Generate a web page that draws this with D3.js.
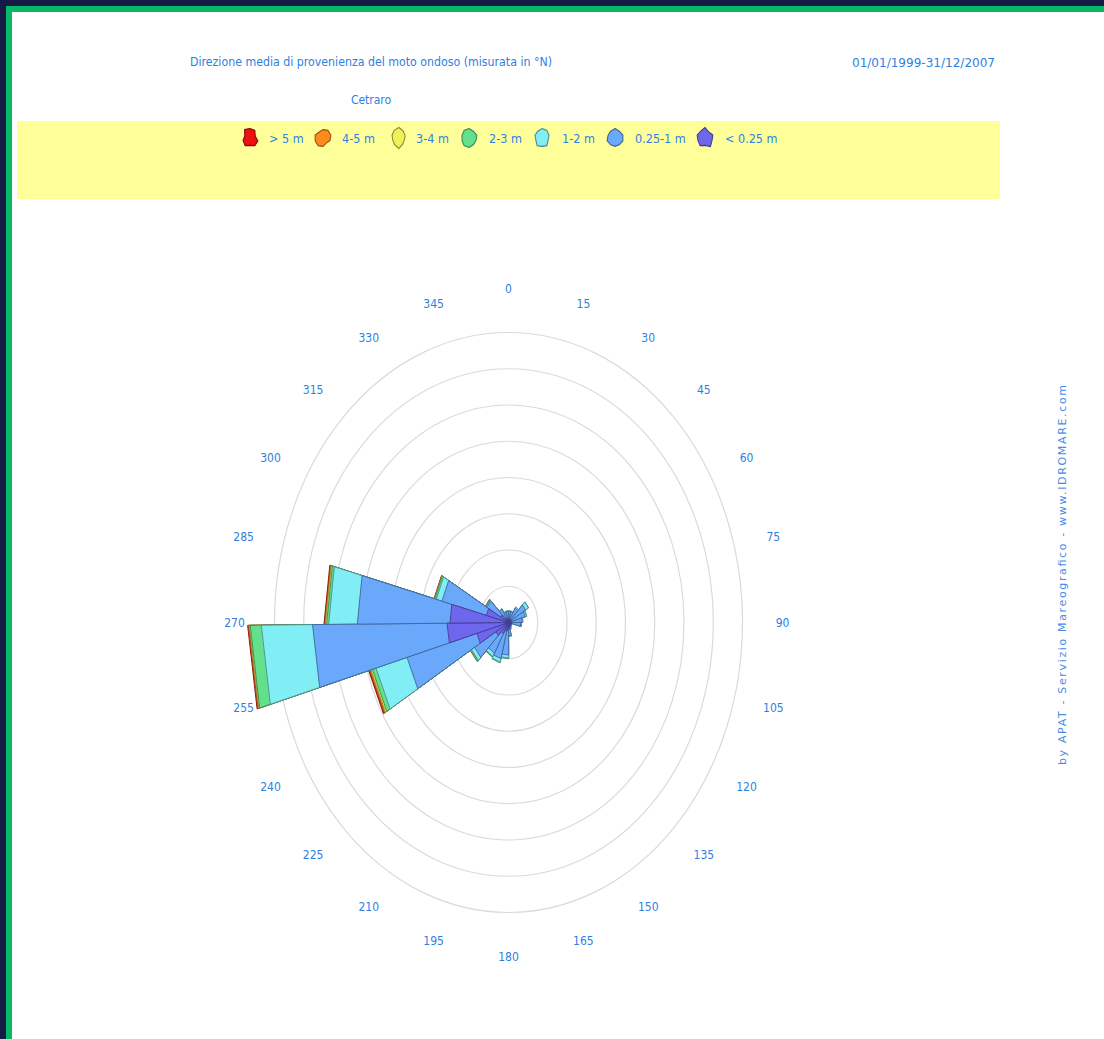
<!DOCTYPE html>
<html><head><meta charset="utf-8">
<script src="https://cdn.jsdelivr.net/npm/d3@7"></script>
<style>
html,body{margin:0;padding:0;background:#fff;overflow:hidden;}
svg{display:block;}
</style></head>
<body>
<svg id="chart" width="1104" height="1039"></svg>
<script>
// ---- data ----
const sectors = [0,15,30,45,60,75,90,105,120,135,150,165,180,195,210,225,240,255,270,285,300,315,330,345];
const bandLabels = ["< 0.25 m","0.25-1 m","1-2 m","2-3 m","3-4 m","4-5 m","> 5 m"];
const bandColors = ["#6f66ee","#6aa8fb","#80eef4","#62e08c","#f0f05a","#ff8c1a","#ee1111"];
// thickness of each band per sector (frequency units, one ring = 1)
const lt025  = [0.10,0.10,0.10,0.10,0.10,0.11,0.11,0.10,0.10,0.11,0.12,0.15,0.20,0.25,0.35,0.50,1.12,2.10,2.00,0.78,0.30,0.12,0.10,0.10];
const h025_1 = [0.21,0.21,0.36,0.58,0.49,0.36,0.31,0.02,0.02,0.04,0.08,0.22,0.70,0.78,0.63,0.85,2.48,4.60,3.17,1.57,0.55,0.31,0.20,0.21];
const h1_2   = [0.02,0.02,0.04,0.11,0.05,0.03,0.02,0.00,0.00,0.00,0.00,0.02,0.08,0.10,0.10,0.12,1.10,1.75,0.98,0.20,0.03,0.02,0.02,0.02];
const h2_3   = [0.00,0.00,0.00,0.01,0.01,0.00,0.01,0.00,0.00,0.00,0.00,0.00,0.02,0.02,0.02,0.03,0.13,0.38,0.07,0.05,0.01,0.00,0.00,0.00];
const h3_4   = [0.00,0.00,0.00,0.00,0.00,0.00,0.00,0.00,0.00,0.00,0.00,0.00,0.00,0.00,0.01,0.01,0.05,0.03,0.04,0.01,0.01,0.00,0.00,0.00];
const h4_5   = [0.00,0.00,0.00,0.00,0.00,0.00,0.00,0.00,0.00,0.00,0.00,0.00,0.00,0.00,0.00,0.01,0.04,0.03,0.02,0.01,0.00,0.00,0.00,0.00];
const hgt5   = [0.00,0.00,0.00,0.00,0.00,0.00,0.00,0.00,0.00,0.00,0.00,0.00,0.00,0.00,0.00,0.00,0.04,0.03,0.03,0.01,0.01,0.00,0.00,0.00];
const bands = [lt025,h025_1,h1_2,h2_3,h3_4,h4_5,hgt5];
const ringValues = [1,2,3,4,5,6,7,8];
const angleTicks = [0,15,30,45,60,75,90,105,120,135,150,165,180,195,210,225,240,255,270,285,300,315,330,345];
const sectorSpan = 15;
const sectorOffset = -0.5;

const titleText = "Direzione media di provenienza del moto ondoso (misurata in °N)";
const dateText = "01/01/1999-31/12/2007";
const stationText = "Cetraro";
const creditText = "by APAT - Servizio Mareografico - www.IDROMARE.com";

// ---- drawing ----
const svg = d3.select("#chart");
const W = 1104, H = 1039;
const txtBlue = "#2f7fe0";
const font = "'DejaVu Sans Condensed','DejaVu Sans',sans-serif";

// frame
svg.append("rect").attr("x",0).attr("y",0).attr("width",W).attr("height",H).attr("fill","#ffffff");
svg.append("rect").attr("x",0).attr("y",0).attr("width",W).attr("height",6).attr("fill","#141a44");
svg.append("rect").attr("x",0).attr("y",0).attr("width",6).attr("height",H).attr("fill","#141a44");
svg.append("rect").attr("x",6).attr("y",6).attr("width",W-6).attr("height",6).attr("fill","#08b866");
svg.append("rect").attr("x",6).attr("y",6).attr("width",6).attr("height",H-6).attr("fill","#08b866");

// header texts
svg.append("text").attr("x",190).attr("y",66).attr("fill",txtBlue).attr("font-family",font)
  .attr("font-size",12).attr("textLength",362).attr("lengthAdjust","spacingAndGlyphs").text(titleText);
svg.append("text").attr("x",995).attr("y",66.5).attr("text-anchor","end").attr("fill",txtBlue).attr("font-family",font)
  .attr("font-size",13).attr("textLength",143).attr("lengthAdjust","spacingAndGlyphs").text(dateText);
svg.append("text").attr("x",371).attr("y",104).attr("text-anchor","middle").attr("fill",txtBlue).attr("font-family",font)
  .attr("font-size",12).text(stationText);

// legend box
svg.append("rect").attr("x",17).attr("y",121).attr("width",983).attr("height",78).attr("fill","#ffff99");
const legIconX = [250,323,399,469,542,615,705];
const legTextX = [269,342,416,489,562,635,725];
const legendOrder = [6,5,4,3,2,1,0];
const blobR = [
  [9,9,6,9,9,7,9,8,6,10],
  [8,9,9,8,6,8,9,9,9,7],
  [10,8,7,6,7,10,8,7,8,9],
  [9,8,9,8,8,9,9,8,8,9],
  [9,9,8,7,9,8,9,7,8,8],
  [9,8,9,9,8,8,8,9,8,8],
  [10,7,9,8,10,7,9,8,9,8]
];
const blob = d3.lineRadial().curve(d3.curveLinearClosed)
  .angle((d,i)=> i/10*2*Math.PI).radius(d=>d);
legendOrder.forEach((b,i)=>{
  const g = svg.append("g").attr("transform",`translate(${legIconX[i]},138)`);
  g.append("path").attr("d",blob(blobR[i])).attr("fill",bandColors[b])
   .attr("stroke",d3.color(bandColors[b]).darker(1.6)).attr("stroke-width",1.1).attr("transform","scale(0.92,1.05)");
  svg.append("text").attr("x",legTextX[i]).attr("y",142.5).attr("fill",txtBlue).attr("font-family",font)
   .attr("font-size",12.5).text(bandLabels[b]);
});

// polar (elliptical) scales
const cx = 508.5, cy = 622.5;
const rX = d3.scaleLinear().domain([0,8]).range([0,234]);
const rY = d3.scaleLinear().domain([0,8]).range([0,290]);
const pt = (a,r)=>{ const t=a*Math.PI/180; return [cx + rX(r)*Math.sin(t), cy - rY(r)*Math.cos(t)]; };

// rings
const ringG = svg.append("g");
ringValues.forEach(v=>{
  ringG.append("ellipse").attr("cx",cx).attr("cy",cy).attr("rx",rX(v)).attr("ry",rY(v))
    .attr("fill","none").attr("stroke","#dadada").attr("stroke-width",1.2);
});

// angle labels
const lblX = d3.scaleLinear().domain([0,1]).range([0,268.6]);
const lblY = d3.scaleLinear().domain([0,1]).range([0,329]);
angleTicks.forEach(a=>{
  const t=a*Math.PI/180, c=Math.cos(t), s=Math.sin(t);
  const sx = Math.abs(s)<1e-6?0:Math.sign(s);
  const extra = 5*Math.pow(Math.abs(c),60)*Math.sign(c);
  svg.append("text").attr("x",cx+lblX(s)+5.4*sx).attr("y",cy-lblY(c)-extra)
   .attr("text-anchor","middle").attr("dominant-baseline","central")
   .attr("fill",txtBlue).attr("font-family",font).attr("font-size",12).text(a);
});

// stacked wedges
const stack = sectors.map((s,i)=>{
  let acc=0; return bands.map(arr=>{ const r0=acc; acc+=arr[i]; return [r0,acc]; });
});
const roseG = svg.append("g");
const line = d3.line();
for(let b=bands.length-1;b>=0;b--){
  sectors.forEach((s,i)=>{
    const [r0,r1] = stack[i][b];
    if(r1-r0<=0) return;
    const a1=s+sectorOffset, a2=s+sectorOffset+sectorSpan;
    const poly=[pt(a1,0),pt(a1,r1),pt(a2,r1),pt(a2,0)];
    roseG.append("path").attr("d",line(poly)+"Z").attr("fill",bandColors[b])
      .attr("stroke",d3.color(bandColors[b]).darker(1.4)).attr("stroke-width",0.9)
      .attr("stroke-linejoin","miter");
  });
}

// credit
svg.append("text").attr("transform","translate(1066,765) rotate(-90)").attr("fill","#4a8be6")
  .attr("font-family","'DejaVu Sans',Verdana,sans-serif").attr("font-size",11)
  .attr("textLength",380).attr("lengthAdjust","spacing").text(creditText);
</script>
</body></html>
